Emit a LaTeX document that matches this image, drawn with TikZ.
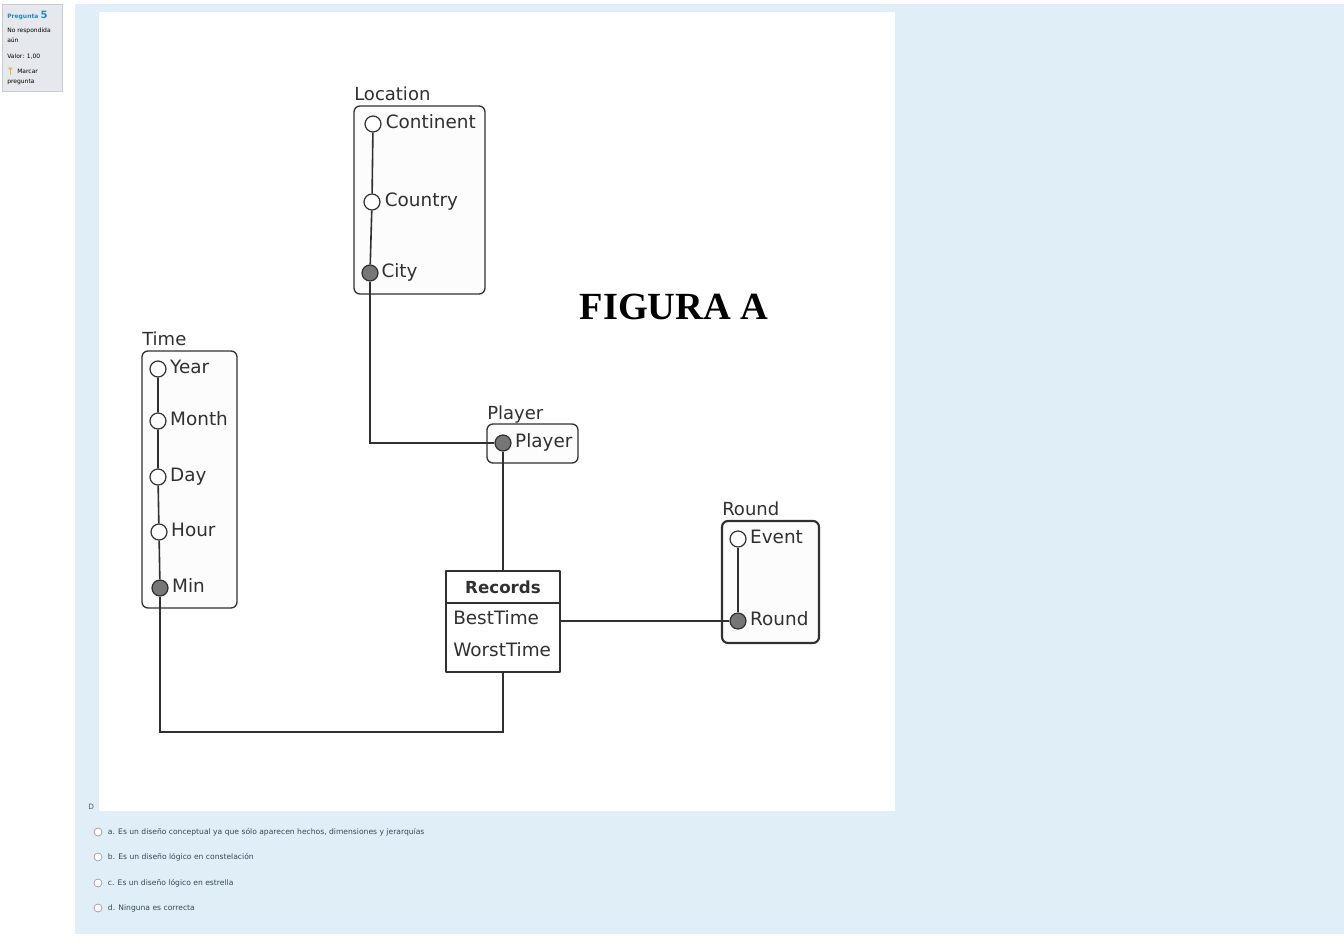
\documentclass[tikz,border=0pt]{standalone}
\usepackage{fontspec}
\setmainfont{DejaVu Sans}
\newfontfamily\figfont{Liberation Serif}
\usetikzlibrary{positioning, calc}

\definecolor{panelblue}{RGB}{224,239,247}
\definecolor{sidegray}{RGB}{229,232,236}
\definecolor{sideedge}{RGB}{200,204,209}
\definecolor{moodleblue}{RGB}{28,138,200}
\definecolor{optiontext}{RGB}{52,72,84}
\definecolor{linegray}{RGB}{48,48,48}
\definecolor{keygray}{RGB}{118,118,118}
\definecolor{boxwhite}{RGB}{252,252,252}
\definecolor{flagyellow}{RGB}{232,180,40}

\pgfdeclarelayer{boxes}
\pgfdeclarelayer{links}
\pgfsetlayers{boxes,links,main}

\begin{document}
\begin{tikzpicture}[x=0.75pt, y=-0.75pt, line cap=round, line join=round]
	
	%======================
	% STYLES
	%======================
	\tikzset{
		panel/.style={draw=none},
		dimbox/.style={draw=linegray, fill=boxwhite, rounded corners=4.5pt, line width=1pt},
		attr/.style={circle, draw=linegray, fill=white, line width=0.9pt, minimum size=12pt, inner sep=0pt},
		keyattr/.style={attr, fill=keygray},
		lbl/.style={anchor=west, inner sep=0pt, text height=10pt, text depth=3pt, text=linegray, font=\fontsize{13.8}{16}\selectfont},
		ttl/.style={anchor=base west, inner sep=0pt, text=linegray, font=\fontsize{13.5}{16}\selectfont},
		link/.style={draw=linegray, line width=1.2pt},
		side/.style={anchor=base west, inner sep=0pt, font=\fontsize{4.5}{5}\selectfont},
		option/.style={anchor=west, inner sep=0pt, text=optiontext, font=\fontsize{5.7}{7}\selectfont},
		radio/.style={circle, draw=gray!80, fill=white, line width=0.5pt, minimum size=6pt, inner sep=0pt}
	}
	
	\useasboundingbox (0,0) rectangle (1344,946);
	
	%======================
	% PAGE: sidebar, panel, picture area
	%======================
	\begin{pgfonlayer}{boxes}
		\fill[white] (0,0) rectangle (1344,946);
		\draw[fill=sidegray, draw=sideedge, line width=0.5pt] (2,4) rectangle (62,91);
		\fill[panelblue] (75,4) rectangle (1344,934);
		\fill[white] (99,12) rectangle (895,811);
		
		% dimension boxes
		\draw[dimbox] (354,106) rectangle (485,294);
		\draw[dimbox] (142,351) rectangle (237,608);
		\draw[dimbox] (487,424) rectangle (578,463);
		\draw[dimbox, line width=1.6pt] (722,521) rectangle (819,643);
	\end{pgfonlayer}
	
	% sidebar texts
	\node[side, text=moodleblue, font=\fontsize{4.5}{5}\selectfont\bfseries] (qlabel) at (7,18) {Pregunta \fontsize{7.5}{8}\selectfont 5};
	\node[side] (state) at (7,32) {No respondida};
	\node[side] (state2) at (7,42) {aún};
	\node[side] (value) at (7,58) {Valor: 1,00};
	\fill[flagyellow] (7.5,67.5) -- (12.5,67.5) -- (10.6,70.5) -- cycle;
	\draw[flagyellow, line width=0.6pt] (10,68) -- (10,74.5);
	\node[side] (flag) at (17,73) {Marcar};
	\node[side] (flag2) at (7,83) {pregunta};
	
	%======================
	% LOCATION
	%======================
	\node[ttl] (locT) at (354,100) {Location};
	\node[attr] (cont) at (373,124) {};
	\node[attr] (ctry) at (372,202) {};
	\node[keyattr] (city) at (370,273) {};
	\node[lbl, right=3pt of cont] {Continent};
	\node[lbl, right=3pt of ctry] {Country};
	\node[lbl, right=2pt of city] {City};
	
	\node[font=\figfont\fontsize{28.8}{30}\selectfont\bfseries] (fig) at (674,307) {FIGURA A};
	
	%======================
	% TIME
	%======================
	\node[ttl] (timeT) at (142,345) {Time};
	\node[attr] (year) at (158,369) {};
	\node[attr] (month) at (158,421) {};
	\node[attr] (day) at (158,477) {};
	\node[attr] (hour) at (159,532) {};
	\node[keyattr] (min) at (160,588) {};
	\node[lbl, right=2.5pt of year] {Year};
	\node[lbl, right=2.5pt of month] {Month};
	\node[lbl, right=2.5pt of day] {Day};
	\node[lbl, right=2.5pt of hour] {Hour};
	\node[lbl, right=2.5pt of min] {Min};
	
	%======================
	% PLAYER
	%======================
	\node[ttl] (plyT) at (487,419) {Player};
	\node[keyattr] (ply) at (503,443) {};
	\node[lbl, right=2.5pt of ply] {Player};
	
	%======================
	% ROUND
	%======================
	\node[ttl] (rndT) at (722,515) {Round};
	\node[attr] (evt) at (738,539) {};
	\node[keyattr] (rnd) at (738,621) {};
	\node[lbl, right=2.5pt of evt] {Event};
	\node[lbl, right=2.5pt of rnd] {Round};
	
	%======================
	% FACT: Records
	%======================
	\node[draw=linegray, fill=white, line width=1pt, minimum width=85.5pt, minimum height=75.75pt, inner sep=0pt] (rec) at (503,621.5) {};
	\draw[linegray, line width=1pt] (446,603) -- (560,603);
	\node[text=linegray, font=\fontsize{12.5}{14}\selectfont\bfseries] (recT) at (503,587) {Records};
	\node[lbl] (best) at (453,620) {BestTime};
	\node[lbl] (worst) at (453,652) {WorstTime};
	
	%======================
	% LINKS
	%======================
	\coordinate (bendT) at (330,732);
	\begin{pgfonlayer}{links}
		\draw[link] (cont) -- (ctry) -- (city);
		\draw[link] (city) |- (ply);
		\draw[link] (year) -- (month) -- (day) -- (hour) -- (min);
		\draw[link] (min) |- (bendT) -| (rec.south);
		\draw[link] (ply) -- (ply |- rec.north);
		\draw[link] (rec.east |- rnd) -- (rnd);
		\draw[link] (evt) -- (rnd);
	\end{pgfonlayer}
	
	%======================
	% ANSWERS
	%======================
	\node[anchor=base west, inner sep=0pt, text=gray!70!black, font=\fontsize{5.5}{6}\selectfont] (dlabel) at (88,809) {D};
	\node[radio] (ra) at (98,832) {};
	\node[radio] (rb) at (98,857) {};
	\node[radio] (rc) at (98,883) {};
	\node[radio] (rd) at (98,908) {};
	\node[option, right=4pt of ra] {a. Es un diseño conceptual ya que sólo aparecen hechos, dimensiones y jerarquías};
	\node[option, right=4pt of rb] {b. Es un diseño lógico en constelación};
	\node[option, right=4pt of rc] {c. Es un diseño lógico en estrella};
	\node[option, right=4pt of rd] {d. Ninguna es correcta};
	
\end{tikzpicture}
\end{document}
